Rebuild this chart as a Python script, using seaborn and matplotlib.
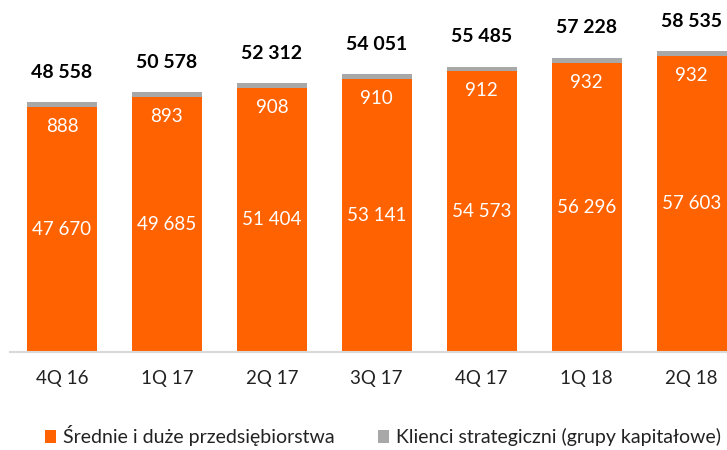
import matplotlib
matplotlib.use("Agg")
import matplotlib.pyplot as plt
from matplotlib.patches import Patch
import seaborn as sns
import pandas as pd
import numpy as np

categories = ["4Q 16", "1Q 17", "2Q 17", "3Q 17", "4Q 17", "1Q 18", "2Q 18"]
srednie = [47670, 49685, 51404, 53141, 54573, 56296, 57603]
klienci = [888, 893, 908, 910, 912, 932, 932]
legend_labels = ["Średnie i duże przedsiębiorstwa", "Klienci strategiczni (grupy kapitałowe)"]

ORANGE = "#FF6200"
GRAY = "#A8A8A8"

sns.set_theme(style="white")
plt.rcParams["font.family"] = ["Lato", "DejaVu Sans"]

totals = [a + b for a, b in zip(srednie, klienci)]
df = pd.DataFrame({"cat": categories, "srednie": srednie, "klienci": klienci, "total": totals})

fig = plt.figure(figsize=(7.27, 4.5), dpi=100)
ax = fig.add_axes([9.5 / 727, 98 / 450, 1 - 9.5 / 727, 352 / 450])

sns.barplot(data=df, x="cat", y="total", color=GRAY, width=0.667, ax=ax,
            saturation=1, linewidth=0, errorbar=None)
sns.barplot(data=df, x="cat", y="srednie", color=ORANGE, width=0.667, ax=ax,
            saturation=1, linewidth=0, errorbar=None)

ax.set_xlim(-0.5, 6.338)
ax.set_ylim(0, 68452)
ax.set_xlabel("")
ax.set_ylabel("")
ax.set_yticks([])
for s in ["top", "right", "left"]:
    ax.spines[s].set_visible(False)
ax.spines["bottom"].set_color("#D9D9D9")
ax.spines["bottom"].set_linewidth(1.5)
ax.tick_params(axis="x", length=0, pad=13, labelsize=13.5, labelcolor="#222222")

def fmt(v):
    return f"{v:,}".replace(",", " ")

for i, (s, k, t) in enumerate(zip(srednie, klienci, totals)):
    ax.text(i, s / 2, fmt(s), ha="center", va="center", color="white", fontsize=13.5)
    ax.annotate(fmt(k), (i, t), xytext=(0, -17.5), textcoords="offset points",
                ha="center", va="center", color="white", fontsize=13.5)
    ax.annotate(fmt(t), (i, t), xytext=(0, 21.5), textcoords="offset points",
                ha="center", va="center", color="black", fontsize=14, fontweight="bold")

handles = [Patch(facecolor=ORANGE, edgecolor="none"), Patch(facecolor=GRAY, edgecolor="none")]
fig.legend(handles, legend_labels, loc="center", bbox_to_anchor=(383 / 727, 1 - 436 / 450),
           ncol=2, frameon=False, fontsize=14, handlelength=0.6, handleheight=0.6,
           handletextpad=0.35, columnspacing=2.2, labelcolor="#222222",
           borderpad=0.2)

fig.savefig("out.png", dpi=100)
